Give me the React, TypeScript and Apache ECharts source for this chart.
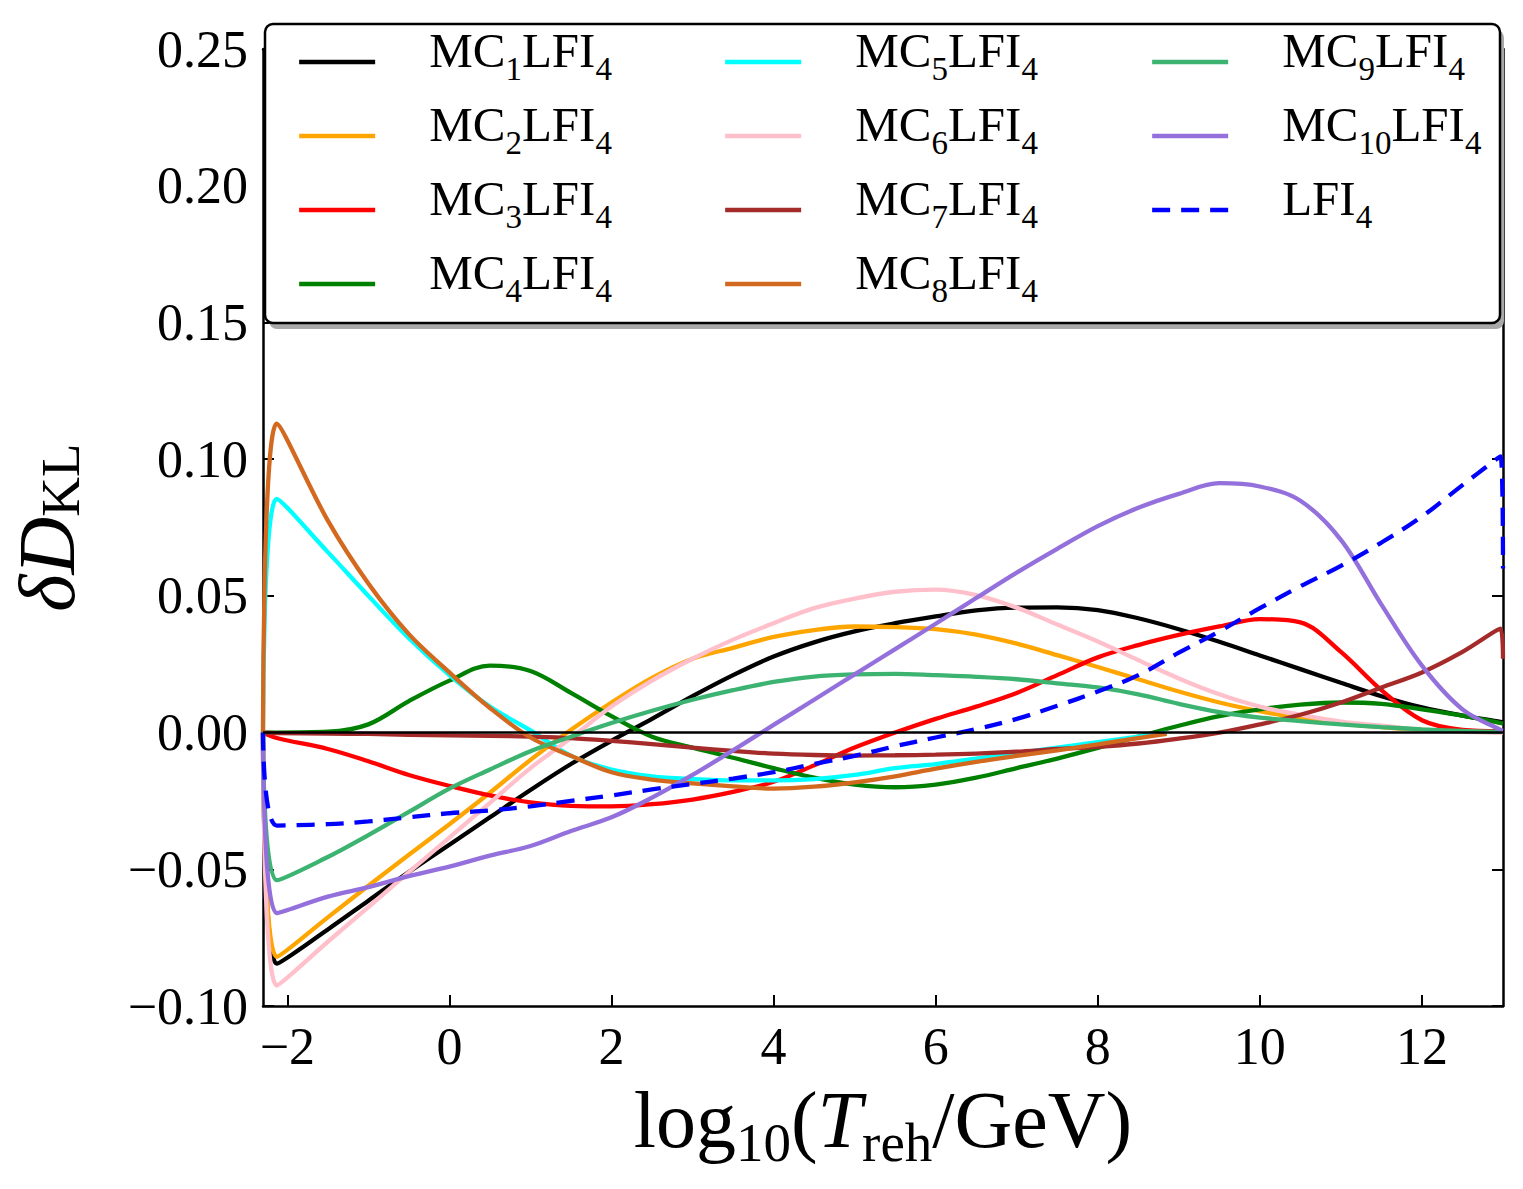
import React, { useEffect, useRef } from "react";
import * as echarts from "echarts";

const FONT = "'Liberation Serif', 'DejaVu Serif', 'Times New Roman', serif";

// x grid (log10 T_reh / GeV)
const X = [-2.3, -2.13, -1.5, -1, -0.5, 0, 0.5, 1, 1.5, 2, 2.5, 3, 3.5, 4, 4.5, 5, 5.5, 6, 6.5, 7, 7.5, 8, 8.5, 9, 9.5, 10, 10.5, 11, 11.5, 12, 12.5, 12.97, 13];
const X_SHORT = [-2.3, -2.13, -1.5, -1, -0.5, 0, 0.5, 1, 1.5, 2, 2.5, 3, 3.5, 4, 4.5, 5, 5.5, 6, 6.5, 7, 7.5, 8, 8.5, 8.85];

const MC1 = [0, -0.0845, -0.072, -0.0615, -0.051, -0.041, -0.031, -0.021, -0.0115, -0.003, 0.005, 0.0133, 0.021, 0.0278, 0.033, 0.037, 0.040, 0.0425, 0.0447, 0.0457, 0.0458, 0.0448, 0.0418, 0.0378, 0.0332, 0.0282, 0.0232, 0.0182, 0.0133, 0.0092, 0.0062, 0.0039, 0.0037];
const MC2 = [0, -0.082, -0.0676, -0.056, -0.0447, -0.0335, -0.022, -0.010, 0.001, 0.011, 0.020, 0.027, 0.031, 0.035, 0.0375, 0.0388, 0.0386, 0.0378, 0.0358, 0.0325, 0.0283, 0.024, 0.0195, 0.015, 0.011, 0.0078, 0.0052, 0.0033, 0.002, 0.001, 0.0005, 0.0002, 0.0002];
const MC3 = [0, -0.002, -0.006, -0.0105, -0.0155, -0.0195, -0.023, -0.0255, -0.0268, -0.027, -0.0262, -0.0245, -0.0217, -0.018, -0.012, -0.0055, 0, 0.005, 0.0095, 0.0145, 0.021, 0.0275, 0.032, 0.0357, 0.0388, 0.0415, 0.0403, 0.0295, 0.0155, 0.0045, 0.001, 0.0005, 0.0005];
const MC4 = [0, 0, 0.0003, 0.003, 0.0115, 0.019, 0.0245, 0.0225, 0.0145, 0.006, -0.0015, -0.0055, -0.0092, -0.013, -0.0165, -0.019, -0.020, -0.019, -0.0165, -0.013, -0.0095, -0.0056, -0.0015, 0.0025, 0.006, 0.0085, 0.0102, 0.011, 0.0105, 0.0085, 0.0062, 0.0035, 0.0033];
const MC5 = [0, 0.0855, 0.066, 0.050, 0.0345, 0.021, 0.0095, 0.0008, -0.0085, -0.0135, -0.016, -0.017, -0.0175, -0.0175, -0.017, -0.0155, -0.013, -0.0115, -0.0095, -0.0075, -0.0055, -0.0035, -0.0015, 0];
const MC6 = [0, -0.0925, -0.0765, -0.0638, -0.051, -0.0384, -0.0257, -0.013, -0.002, 0.0095, 0.019, 0.027, 0.034, 0.040, 0.0455, 0.049, 0.0515, 0.0523, 0.0503, 0.0457, 0.0395, 0.0333, 0.0265, 0.0198, 0.014, 0.0095, 0.0065, 0.004, 0.0025, 0.001, 0.0003, 0, 0];
const MC7 = [0, -0.0002, -0.0004, -0.0005, -0.0008, -0.001, -0.0012, -0.0015, -0.002, -0.003, -0.0042, -0.0055, -0.0067, -0.0077, -0.0082, -0.0084, -0.0083, -0.0081, -0.0077, -0.007, -0.006, -0.0052, -0.004, -0.0022, 0, 0.003, 0.0065, 0.011, 0.0165, 0.022, 0.0295, 0.038, 0.027];
const MC8 = [0, 0.113, 0.0775, 0.0545, 0.036, 0.022, 0.009, -0.0018, -0.0085, -0.0145, -0.0172, -0.0186, -0.0197, -0.0205, -0.0198, -0.0182, -0.016, -0.0132, -0.0107, -0.0085, -0.0065, -0.0043, -0.002, -0.0005];
const MC9 = [0, -0.054, -0.0455, -0.0375, -0.029, -0.0205, -0.0135, -0.0068, -0.0015, 0.0035, 0.008, 0.012, 0.0155, 0.0185, 0.0205, 0.0213, 0.0215, 0.021, 0.0204, 0.0195, 0.018, 0.0165, 0.014, 0.0105, 0.0075, 0.0055, 0.0042, 0.003, 0.002, 0.0012, 0.0006, 0.0003, 0.0003];
const MC10 = [0, -0.066, -0.060, -0.0565, -0.0525, -0.049, -0.045, -0.0415, -0.036, -0.031, -0.0238, -0.0155, -0.0065, 0.0028, 0.012, 0.0213, 0.0305, 0.0398, 0.0492, 0.0585, 0.0672, 0.0755, 0.0822, 0.0873, 0.0912, 0.0900, 0.0848, 0.0705, 0.0468, 0.0245, 0.0085, 0.001, 0.0007];
const LFI4 = [0, -0.034, -0.0335, -0.0325, -0.031, -0.0295, -0.0285, -0.027, -0.025, -0.023, -0.0208, -0.0188, -0.0168, -0.0145, -0.0115, -0.0085, -0.005, -0.0018, 0.0013, 0.005, 0.0098, 0.015, 0.021, 0.0292, 0.037, 0.0455, 0.0535, 0.061, 0.0695, 0.079, 0.0905, 0.101, 0.06];

const X_TICKS = [-2, 0, 2, 4, 6, 8, 10, 12];
const Y_MIN = -0.1;
const Y_MAX = 0.25;
const Y_STEP = 0.05;
const X_MIN = -2.3;
const X_MAX = 13;

const SERIES = [
  { name: "MC1LFI4", xs: X, ys: MC1, color: "#000000", dash: false },
  { name: "MC2LFI4", xs: X, ys: MC2, color: "#FFA500", dash: false },
  { name: "MC3LFI4", xs: X, ys: MC3, color: "#FF0000", dash: false },
  { name: "MC4LFI4", xs: X, ys: MC4, color: "#008000", dash: false },
  { name: "MC5LFI4", xs: X_SHORT, ys: MC5, color: "#00FFFF", dash: false },
  { name: "MC6LFI4", xs: X, ys: MC6, color: "#FFC0CB", dash: false },
  { name: "MC7LFI4", xs: X, ys: MC7, color: "#A52A2A", dash: false },
  { name: "MC8LFI4", xs: X_SHORT, ys: MC8, color: "#D2691E", dash: false },
  { name: "MC9LFI4", xs: X, ys: MC9, color: "#3CB371", dash: false },
  { name: "MC10LFI4", xs: X, ys: MC10, color: "#9370DB", dash: false },
  { name: "LFI4", xs: X, ys: LFI4, color: "#0000FF", dash: true },
];

const LEGEND_COLS = [
  ["MC1LFI4", "MC2LFI4", "MC3LFI4", "MC4LFI4"],
  ["MC5LFI4", "MC6LFI4", "MC7LFI4", "MC8LFI4"],
  ["MC9LFI4", "MC10LFI4", "LFI4"],
];
const LEGEND_LEFT = [297, 723, 1150];

const LINE_W = 4.3;
const DASH = [18, 11];

const legendFormatter = (name: string) => {
  const m = name.match(/^MC(\d+)LFI4$/);
  if (m) return `{f|MC}{s|${m[1]}}{m|LFI}{s|4}`;
  return `{f|LFI}{s|4}`;
};

const legendRich = {
  f: { fontFamily: FONT, fontSize: 49, color: "#000", lineHeight: 60, verticalAlign: "top", padding: [0, 0, 0, 49] },
  m: { fontFamily: FONT, fontSize: 49, color: "#000", lineHeight: 60, verticalAlign: "top" },
  s: { fontFamily: FONT, fontSize: 33, color: "#000", lineHeight: 30, verticalAlign: "top", padding: [26, 0, 0, 0] },
};

function buildOption() {
  const series: any[] = SERIES.map((s) => ({
    name: s.name,
    type: "line",
    data: s.xs.map((x, i) => [x, s.ys[i]]),
    symbol: "none",
    smooth: 0.35,
    lineStyle: { color: s.color, width: LINE_W, type: s.dash ? DASH : "solid" },
    itemStyle: { color: s.color },
    z: 2,
  }));
  series.push({
    name: "zero",
    type: "line",
    data: [[X_MIN, 0], [X_MAX, 0]],
    symbol: "none",
    lineStyle: { color: "#000", width: 2.5 },
    z: 3,
    silent: true,
  });

  const tickLabelStyle = { fontFamily: FONT, fontSize: 52, color: "#000" };

  return {
    animation: false,
    backgroundColor: "#fff",
    grid: { left: 263, right: 20, top: 49, bottom: 183, containLabel: false, outerBoundsMode: "none" },
    xAxis: [
      {
        type: "value",
        min: X_MIN,
        max: X_MAX,
        position: "bottom",
        axisLine: { show: true, onZero: false, lineStyle: { color: "#000", width: 2.5 } },
        axisTick: { show: true, inside: true, length: 11, customValues: X_TICKS, lineStyle: { color: "#000", width: 2 } },
        axisLabel: {
          ...tickLabelStyle,
          margin: 14,
          customValues: X_TICKS,
          formatter: (v: number) => (v < 0 ? "\u2212" + String(-v) : String(v)),
        },
        splitLine: { show: false },
        name: "{a|log}{s|10}{a|(}{i|T}{s|reh}{a|/GeV)}",
        nameLocation: "middle",
        nameGap: 74,
        nameMoveOverlap: false,
        nameTextStyle: {
          rich: {
            a: { fontFamily: FONT, fontSize: 80, color: "#000", lineHeight: 80, verticalAlign: "top" },
            i: { fontFamily: FONT, fontSize: 80, color: "#000", fontStyle: "italic", lineHeight: 80, verticalAlign: "top" },
            s: { fontFamily: FONT, fontSize: 55, color: "#000", lineHeight: 55, verticalAlign: "top", padding: [35, 0, 0, 0] },
          },
        },
      },
      {
        type: "value",
        min: X_MIN,
        max: X_MAX,
        position: "top",
        axisLine: { show: true, onZero: false, lineStyle: { color: "#000", width: 2.5 } },
        axisTick: { show: true, inside: true, length: 11, customValues: X_TICKS, lineStyle: { color: "#000", width: 2 } },
        axisLabel: { show: false },
        splitLine: { show: false },
      },
    ],
    yAxis: [
      {
        type: "value",
        min: Y_MIN,
        max: Y_MAX,
        interval: Y_STEP,
        position: "left",
        axisLine: { show: true, onZero: false, lineStyle: { color: "#000", width: 2.5 } },
        axisTick: { show: true, inside: true, length: 11, lineStyle: { color: "#000", width: 2 } },
        axisLabel: {
          ...tickLabelStyle,
          margin: 15,
          formatter: (v: number) => (v < -1e-9 ? "\u2212" : "") + Math.abs(v).toFixed(2),
        },
        splitLine: { show: false },
        name: "{i|\u03B4}{i|D}{s|KL}",
        nameLocation: "middle",
        nameRotate: 90,
        nameGap: 176,
        nameMoveOverlap: false,
        nameTextStyle: {
          rich: {
            i: { fontFamily: FONT, fontSize: 80, color: "#000", fontStyle: "italic", lineHeight: 80, verticalAlign: "top" },
            s: { fontFamily: FONT, fontSize: 55, color: "#000", lineHeight: 55, verticalAlign: "top", padding: [26, 0, 0, 0] },
          },
        },
      },
      {
        type: "value",
        min: Y_MIN,
        max: Y_MAX,
        interval: Y_STEP,
        position: "right",
        axisLine: { show: true, onZero: false, lineStyle: { color: "#000", width: 2.5 } },
        axisTick: { show: true, inside: true, length: 11, lineStyle: { color: "#000", width: 2 } },
        axisLabel: { show: false },
        splitLine: { show: false },
      },
    ],
    legend: LEGEND_COLS.map((cols, i) => ({
      data: cols,
      orient: "vertical",
      left: LEGEND_LEFT[i],
      top: 26,
      itemWidth: 76,
      itemHeight: 14,
      itemGap: 15,
      padding: 0,
      selectedMode: false,
      z: 20,
      formatter: legendFormatter,
      itemStyle: { opacity: 0 },
      lineStyle: { width: LINE_W },
      textStyle: { fontFamily: FONT, color: "#000", rich: legendRich, padding: [0, 0, 12, 0] },
    })),
    graphic: {
      elements: [
        {
          type: "rect",
          silent: true,
          z: 10,
          shape: { x: 269, y: 30, width: 1235, height: 299, r: 8 },
          style: { fill: "#a8a8a8" },
        },
        {
          type: "rect",
          silent: true,
          z: 11,
          shape: { x: 265, y: 24, width: 1235, height: 299, r: 8 },
          style: { fill: "#fff", stroke: "#000", lineWidth: 2.5 },
        },
      ],
    },
    series,
  };
}

export default function App() {
  const ref = useRef<HTMLDivElement>(null);
  useEffect(() => {
    if (!ref.current) return;
    const chart = echarts.init(ref.current, null, { renderer: "svg" });
    chart.setOption(buildOption() as any);
    return () => chart.dispose();
  }, []);
  return (
    <div
      ref={ref}
      style={{ position: "absolute", left: 0, top: 0, width: 1523, height: 1189, background: "#fff" }}
    />
  );
}
